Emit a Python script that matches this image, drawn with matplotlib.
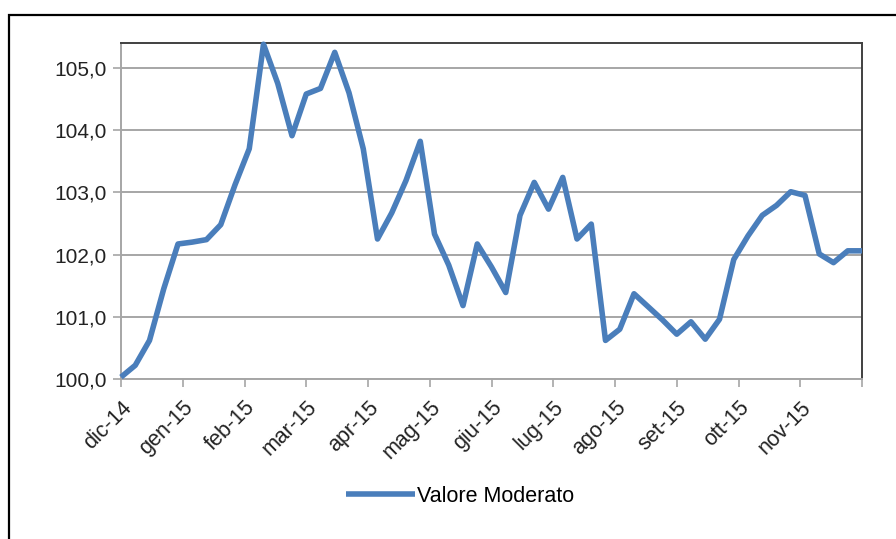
import matplotlib
matplotlib.use("Agg")
import matplotlib.pyplot as plt
from matplotlib.patches import Rectangle
import numpy as np

# weekly values, dic-14 .. dic-15
valore_moderato = [
    100.03, 100.22, 100.62, 101.45, 102.17, 102.20, 102.24, 102.48, 103.12, 103.70,
    105.38, 104.75, 103.91, 104.58, 104.67, 105.25, 104.60, 103.70, 102.25, 102.67,
    103.19, 103.82, 102.33, 101.83, 101.18, 102.17, 101.80, 101.39, 102.63, 103.16,
    102.73, 103.24, 102.25, 102.49, 100.62, 100.80, 101.37, 101.16, 100.95, 100.72,
    100.92, 100.64, 100.96, 101.92, 102.30, 102.63, 102.79, 103.01, 102.95, 102.01,
    101.87, 102.06, 102.06,
]
month_labels = ["dic-14", "gen-15", "feb-15", "mar-15", "apr-15", "mag-15",
                "giu-15", "lug-15", "ago-15", "set-15", "ott-15", "nov-15"]
y_ticks = [100, 101, 102, 103, 104, 105]

plt.rcParams['font.family'] = ['Liberation Sans', 'DejaVu Sans']

fig = plt.figure(figsize=(8.96, 5.39), dpi=100)
ax = fig.add_axes([121 / 896, 1 - 379 / 539, (862 - 121) / 896, (379 - 43) / 539])

x = np.arange(len(valore_moderato))
ax.plot(x, valore_moderato, color='#4a7ebb', lw=4, solid_joinstyle='round',
        solid_capstyle='butt', label="Valore Moderato", clip_on=False, zorder=3)

n = len(valore_moderato) - 1
ticks = np.linspace(0, n, len(month_labels) + 1)
ax.set_xticks(ticks)
ax.set_xticklabels(month_labels + [""], rotation=45, ha='right', va='top',
                   rotation_mode='anchor', fontsize=15.5, color='#222222')
ax.set_xlim(0, n)

ax.set_ylim(100, 105.4)
ax.set_yticks(y_ticks)
ax.set_yticklabels([f"{v:.1f}".replace(".", ",") for v in y_ticks], fontsize=15, color='#222222')

ax.grid(axis='y', color='#a6a6a6', lw=1.4)
ax.set_axisbelow(True)
ax.tick_params(axis='both', direction='out', length=6, width=1.2, color='#a6a6a6')
ax.tick_params(axis='x', pad=7)
ax.tick_params(axis='y', pad=4)

for side in ('left', 'bottom'):
    ax.spines[side].set_color('#a6a6a6')
    ax.spines[side].set_linewidth(1.4)
for side in ('top', 'right'):
    ax.spines[side].set_color('#404040')
    ax.spines[side].set_linewidth(1.4)

fig.legend(loc='center', bbox_to_anchor=(460 / 896, 1 - 496 / 539), frameon=False,
           fontsize=15.5, handlelength=3.2, handletextpad=0.1)

# outer chart frame
fig.patches.append(Rectangle((9 / 896, -0.05), 1.2, 1 - 15 / 539 + 0.05,
                             transform=fig.transFigure, fill=False,
                             edgecolor='black', lw=1.6))

fig.savefig("out.png", dpi=100)
